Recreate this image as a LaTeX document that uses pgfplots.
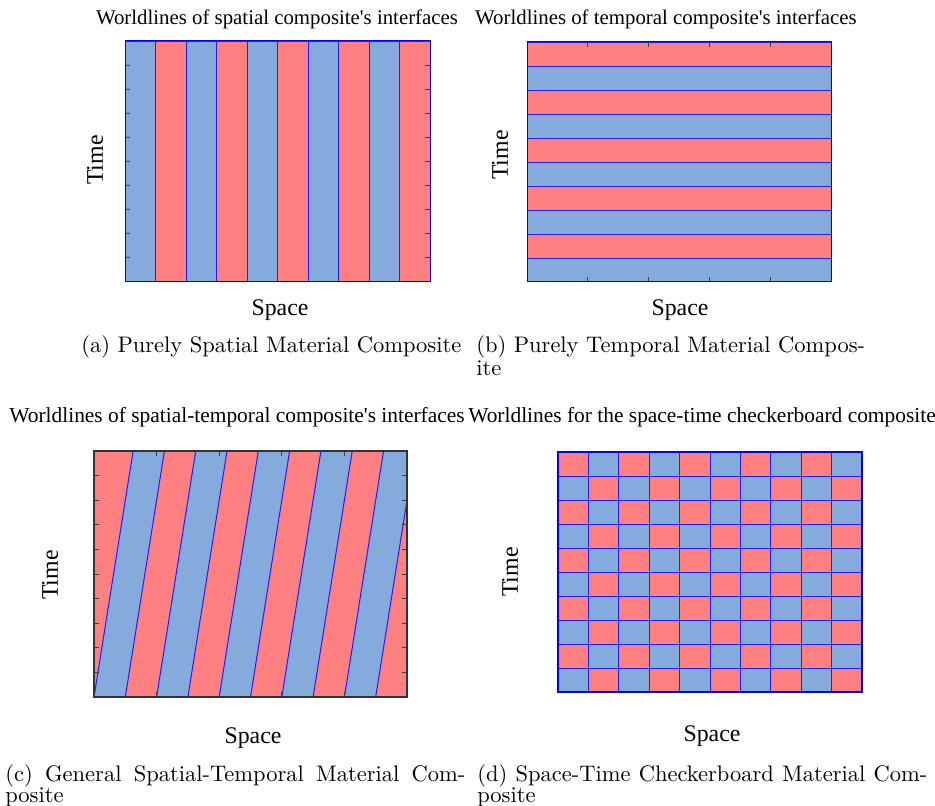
\documentclass[border=0pt]{standalone}
\usepackage{pgfplots}
\pgfplotsset{compat=1.18}
\usepackage{fontspec}
\newfontfamily\tnr{Liberation Serif}
\newfontfamily\lmten{lmroman10-regular}[Extension=.otf]
\definecolor{cred}{RGB}{255,128,128}
\definecolor{cblue}{RGB}{133,170,220}
\definecolor{iface}{RGB}{30,30,255}
\pgfplotsset{
 panel/.style={scale only axis, anchor=north west, xmin=0,xmax=10,ymin=0,ymax=10, axis on top,
   xticklabels={}, yticklabels={}, tick align=inside, major tick length=3pt,
   tick style={black!75,line width=0.5pt}, axis line style={blue,line width=0.6pt}},
}
\newcommand{\ttla}{\tnr\fontsize{12.5}{15}\selectfont}
\newcommand{\ttl}{\tnr\fontsize{12.85}{15}\selectfont}
\newcommand{\lbl}{\tnr\fontsize{14.3}{16}\selectfont}
\newcommand{\capf}{\lmten\fontsize{13.5}{15}\selectfont}
\begin{document}
\begin{tikzpicture}
\useasboundingbox (0,0) rectangle (561pt,483pt);
% (a)
\begin{axis}[panel, at={(75pt,458.4pt)}, width=183pt, height=144pt, ytick={0,...,10}, xtick=\empty]
\addplot[fill=cblue, draw=iface] coordinates {(0,0)(1,0)(1,10)(0,10)} --cycle;
\addplot[fill=cred, draw=iface] coordinates {(1,0)(2,0)(2,10)(1,10)} --cycle;
\addplot[fill=cblue, draw=iface] coordinates {(2,0)(3,0)(3,10)(2,10)} --cycle;
\addplot[fill=cred, draw=iface] coordinates {(3,0)(4,0)(4,10)(3,10)} --cycle;
\addplot[fill=cblue, draw=iface] coordinates {(4,0)(5,0)(5,10)(4,10)} --cycle;
\addplot[fill=cred, draw=iface] coordinates {(5,0)(6,0)(6,10)(5,10)} --cycle;
\addplot[fill=cblue, draw=iface] coordinates {(6,0)(7,0)(7,10)(6,10)} --cycle;
\addplot[fill=cred, draw=iface] coordinates {(7,0)(8,0)(8,10)(7,10)} --cycle;
\addplot[fill=cblue, draw=iface] coordinates {(8,0)(9,0)(9,10)(8,10)} --cycle;
\addplot[fill=cred, draw=iface] coordinates {(9,0)(10,0)(10,10)(9,10)} --cycle;
\end{axis}
% (b)
\begin{axis}[panel, at={(316.2pt,457.8pt)}, width=182.4pt, height=144pt, xtick={0,2,4,6,8,10}, ytick=\empty]
\addplot[fill=cblue, draw=iface] coordinates {(0,0)(10,0)(10,1)(0,1)} --cycle;
\addplot[fill=cred, draw=iface] coordinates {(0,1)(10,1)(10,2)(0,2)} --cycle;
\addplot[fill=cblue, draw=iface] coordinates {(0,2)(10,2)(10,3)(0,3)} --cycle;
\addplot[fill=cred, draw=iface] coordinates {(0,3)(10,3)(10,4)(0,4)} --cycle;
\addplot[fill=cblue, draw=iface] coordinates {(0,4)(10,4)(10,5)(0,5)} --cycle;
\addplot[fill=cred, draw=iface] coordinates {(0,5)(10,5)(10,6)(0,6)} --cycle;
\addplot[fill=cblue, draw=iface] coordinates {(0,6)(10,6)(10,7)(0,7)} --cycle;
\addplot[fill=cred, draw=iface] coordinates {(0,7)(10,7)(10,8)(0,8)} --cycle;
\addplot[fill=cblue, draw=iface] coordinates {(0,8)(10,8)(10,9)(0,9)} --cycle;
\addplot[fill=cred, draw=iface] coordinates {(0,9)(10,9)(10,10)(0,10)} --cycle;
\end{axis}
% (c)
\begin{axis}[panel, at={(56.4pt,212.4pt)}, width=187.8pt, height=147.6pt, xtick={0,2,4,6,8,10}, ytick={0,...,10},
  axis line style={black!80,line width=0.8pt}]
\addplot[fill=cred, draw=none] coordinates {(0,0)(1.25,10)(0,10)} --cycle;
\addplot[fill=cblue, draw=none] coordinates {(0,0)(1,0)(2.25,10)(1.25,10)} --cycle;
\addplot[fill=cred, draw=none] coordinates {(1,0)(2,0)(3.25,10)(2.25,10)} --cycle;
\addplot[fill=cblue, draw=none] coordinates {(2,0)(3,0)(4.25,10)(3.25,10)} --cycle;
\addplot[fill=cred, draw=none] coordinates {(3,0)(4,0)(5.25,10)(4.25,10)} --cycle;
\addplot[fill=cblue, draw=none] coordinates {(4,0)(5,0)(6.25,10)(5.25,10)} --cycle;
\addplot[fill=cred, draw=none] coordinates {(5,0)(6,0)(7.25,10)(6.25,10)} --cycle;
\addplot[fill=cblue, draw=none] coordinates {(6,0)(7,0)(8.25,10)(7.25,10)} --cycle;
\addplot[fill=cred, draw=none] coordinates {(7,0)(8,0)(9.25,10)(8.25,10)} --cycle;
\addplot[fill=cblue, draw=none] coordinates {(8,0)(9,0)(10.25,10)(9.25,10)} --cycle;
\addplot[fill=cred, draw=none] coordinates {(9,0)(10,0)(11.25,10)(10.25,10)} --cycle;
\addplot[iface, line width=0.6pt] coordinates {(0,0)(1.25,10)};
\addplot[iface, line width=0.6pt] coordinates {(1,0)(2.25,10)};
\addplot[iface, line width=0.6pt] coordinates {(2,0)(3.25,10)};
\addplot[iface, line width=0.6pt] coordinates {(3,0)(4.25,10)};
\addplot[iface, line width=0.6pt] coordinates {(4,0)(5.25,10)};
\addplot[iface, line width=0.6pt] coordinates {(5,0)(6.25,10)};
\addplot[iface, line width=0.6pt] coordinates {(6,0)(7.25,10)};
\addplot[iface, line width=0.6pt] coordinates {(7,0)(8.25,10)};
\addplot[iface, line width=0.6pt] coordinates {(8,0)(9.25,10)};
\addplot[iface, line width=0.6pt] coordinates {(9,0)(10.25,10)};
\end{axis}
% (d)
\begin{axis}[panel, at={(334.8pt,211.8pt)}, width=182.4pt, height=144pt,
  xtick={0,...,10}, ytick={0,...,10}, grid=major, major grid style={iface,line width=0.6pt},
  major tick length=0pt, axis line style={blue,line width=0.9pt},
  colormap={rb}{rgb255=(255,128,128) rgb255=(133,170,220)}, point meta min=0, point meta max=1]
\addplot[matrix plot*, mesh/cols=10, point meta=explicit] coordinates {
(0.5,0.5)[1] (1.5,0.5)[0] (2.5,0.5)[1] (3.5,0.5)[0] (4.5,0.5)[1] (5.5,0.5)[0] (6.5,0.5)[1] (7.5,0.5)[0] (8.5,0.5)[1] (9.5,0.5)[0]

(0.5,1.5)[0] (1.5,1.5)[1] (2.5,1.5)[0] (3.5,1.5)[1] (4.5,1.5)[0] (5.5,1.5)[1] (6.5,1.5)[0] (7.5,1.5)[1] (8.5,1.5)[0] (9.5,1.5)[1]

(0.5,2.5)[1] (1.5,2.5)[0] (2.5,2.5)[1] (3.5,2.5)[0] (4.5,2.5)[1] (5.5,2.5)[0] (6.5,2.5)[1] (7.5,2.5)[0] (8.5,2.5)[1] (9.5,2.5)[0]

(0.5,3.5)[0] (1.5,3.5)[1] (2.5,3.5)[0] (3.5,3.5)[1] (4.5,3.5)[0] (5.5,3.5)[1] (6.5,3.5)[0] (7.5,3.5)[1] (8.5,3.5)[0] (9.5,3.5)[1]

(0.5,4.5)[1] (1.5,4.5)[0] (2.5,4.5)[1] (3.5,4.5)[0] (4.5,4.5)[1] (5.5,4.5)[0] (6.5,4.5)[1] (7.5,4.5)[0] (8.5,4.5)[1] (9.5,4.5)[0]

(0.5,5.5)[0] (1.5,5.5)[1] (2.5,5.5)[0] (3.5,5.5)[1] (4.5,5.5)[0] (5.5,5.5)[1] (6.5,5.5)[0] (7.5,5.5)[1] (8.5,5.5)[0] (9.5,5.5)[1]

(0.5,6.5)[1] (1.5,6.5)[0] (2.5,6.5)[1] (3.5,6.5)[0] (4.5,6.5)[1] (5.5,6.5)[0] (6.5,6.5)[1] (7.5,6.5)[0] (8.5,6.5)[1] (9.5,6.5)[0]

(0.5,7.5)[0] (1.5,7.5)[1] (2.5,7.5)[0] (3.5,7.5)[1] (4.5,7.5)[0] (5.5,7.5)[1] (6.5,7.5)[0] (7.5,7.5)[1] (8.5,7.5)[0] (9.5,7.5)[1]

(0.5,8.5)[1] (1.5,8.5)[0] (2.5,8.5)[1] (3.5,8.5)[0] (4.5,8.5)[1] (5.5,8.5)[0] (6.5,8.5)[1] (7.5,8.5)[0] (8.5,8.5)[1] (9.5,8.5)[0]

(0.5,9.5)[0] (1.5,9.5)[1] (2.5,9.5)[0] (3.5,9.5)[1] (4.5,9.5)[0] (5.5,9.5)[1] (6.5,9.5)[0] (7.5,9.5)[1] (8.5,9.5)[0] (9.5,9.5)[1]
};
\end{axis}
% titles
\node[anchor=base] at (166.2pt,468pt) {\ttla Worldlines of spatial composite's interfaces};
\node[anchor=base] at (399.6pt,468pt) {\ttla Worldlines of temporal composite's interfaces};
\node[anchor=base] at (142.2pt,229.8pt) {\ttl Worldlines of spatial-temporal composite's interfaces};
\node[anchor=base] at (421.2pt,229.8pt) {\ttl Worldlines for the space-time checkerboard composite};
% axis labels
\node[rotate=90] at (57pt,387pt) {\lbl Time};
\node[rotate=90] at (300pt,390pt) {\lbl Time};
\node[rotate=90] at (30pt,138pt) {\lbl Time};
\node[rotate=90] at (306pt,139.8pt) {\lbl Time};
\node[anchor=base] at (168pt,294pt) {\lbl Space};
\node[anchor=base] at (408pt,294pt) {\lbl Space};
\node[anchor=base] at (151.8pt,37.2pt) {\lbl Space};
\node[anchor=base] at (427.2pt,38.4pt) {\lbl Space};
% captions
\node[anchor=base west, inner sep=0pt] at (48.6pt,271.8pt) {\capf (a) Purely Spatial Material Composite};
\node[anchor=base west, inner sep=0pt] at (285.6pt,271.8pt) {\capf (b) Purely Temporal Material Compos-};
\node[anchor=base west, inner sep=0pt] at (285.6pt,258pt) {\capf ite};
\node[anchor=base west, inner sep=0pt] at (3pt,14.4pt) {\capf\makebox[276pt][s]{(c) General Spatial-Temporal Material Com-}};
\node[anchor=base west, inner sep=0pt] at (3pt,1.8pt) {\capf posite};
\node[anchor=base west, inner sep=0pt] at (286.2pt,14.4pt) {\capf\makebox[270pt][s]{(d) Space-Time Checkerboard Material Com-}};
\node[anchor=base west, inner sep=0pt] at (286.2pt,1.8pt) {\capf posite};
\end{tikzpicture}
\end{document}
